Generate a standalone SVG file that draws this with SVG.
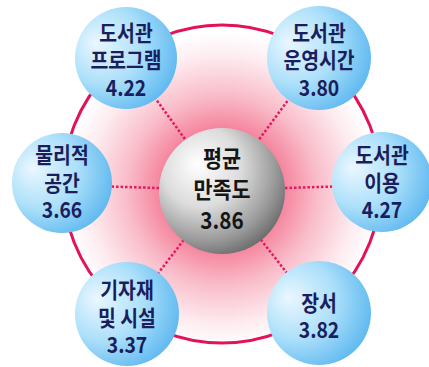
<svg xmlns="http://www.w3.org/2000/svg" width="429" height="367" viewBox="0 0 429 367">
<defs>
<radialGradient id="glow" cx="222" cy="190" r="158" gradientUnits="userSpaceOnUse">
<stop offset="0.35" stop-color="#f47a95"/>
<stop offset="0.6" stop-color="#f9bcc9"/>
<stop offset="0.85" stop-color="#fdecf0"/>
<stop offset="1" stop-color="#ffffff"/>
</radialGradient>
<radialGradient id="gray" cx="0.38" cy="0.35" r="0.7" fx="0.3" fy="0.28">
<stop offset="0" stop-color="#ffffff"/>
<stop offset="0.45" stop-color="#dcdcdc"/>
<stop offset="0.8" stop-color="#9a9a9a"/>
<stop offset="1" stop-color="#6a6a6a"/>
</radialGradient>
<radialGradient id="blue" cx="0.35" cy="0.4" r="0.75" fx="0.2" fy="0.35">
<stop offset="0" stop-color="#eaf7ff"/>
<stop offset="0.5" stop-color="#ade0fa"/>
<stop offset="1" stop-color="#52b2ee"/>
</radialGradient>
</defs>
<style>
.node circle{fill:url(#blue)}
.node text{font-family:"Noto Sans CJK KR","Noto Sans",sans-serif;font-weight:bold;font-size:22px;fill:#1b1e5c;text-anchor:middle}
.center text{font-family:"Noto Sans CJK KR","Noto Sans",sans-serif;font-weight:bold;font-size:23px;fill:#151515;text-anchor:middle}
.spoke{stroke:#e3185f;stroke-width:2.5;stroke-dasharray:2.5 2;fill:none}
.ring{stroke:#e3105a;stroke-width:3;fill:none}
</style>
<circle cx="222" cy="188" r="158" fill="url(#glow)"/>
<g id="connectors">
<circle class="ring" cx="222" cy="184" r="159"/>
<line class="spoke" x1="222" y1="190" x2="126" y2="58"/>
<line class="spoke" x1="222" y1="190" x2="319" y2="58"/>
<line class="spoke" x1="222" y1="190" x2="62" y2="185"/>
<line class="spoke" x1="222" y1="190" x2="382" y2="185"/>
<line class="spoke" x1="222" y1="190" x2="127" y2="314"/>
<line class="spoke" x1="222" y1="190" x2="319" y2="314"/>
</g>
<g id="center" class="center">
<circle cx="222" cy="191" r="63" fill="url(#gray)"/>
<g transform="translate(222,0) scale(0.9,1)">
<text x="0" y="167">평균</text>
<text x="0" y="198">만족도</text>
<text x="0" y="229">3.86</text>
</g>
</g>
<g id="n1" class="node">
<circle cx="126" cy="58" r="51"/>
<g transform="translate(126,0) scale(0.88,1)">
<text x="0" y="41">도서관</text>
<text x="0" y="68">프로그램</text>
<text x="0" y="96">4.22</text>
</g>
</g>
<g id="n2" class="node">
<circle cx="319" cy="58" r="52"/>
<g transform="translate(319,0) scale(0.88,1)">
<text x="0" y="41">도서관</text>
<text x="0" y="68">운영시간</text>
<text x="0" y="96">3.80</text>
</g>
</g>
<g id="n3" class="node">
<circle cx="62" cy="183" r="50"/>
<g transform="translate(62,0) scale(0.88,1)">
<text x="0" y="163">물리적</text>
<text x="0" y="191">공간</text>
<text x="0" y="218">3.66</text>
</g>
</g>
<g id="n4" class="node">
<circle cx="382" cy="182" r="50"/>
<g transform="translate(382,0) scale(0.88,1)">
<text x="0" y="163">도서관</text>
<text x="0" y="191">이용</text>
<text x="0" y="218">4.27</text>
</g>
</g>
<g id="n5" class="node">
<circle cx="127" cy="314" r="52"/>
<g transform="translate(127,0) scale(0.88,1)">
<text x="0" y="298">기자재</text>
<text x="0" y="326">및 시설</text>
<text x="0" y="353">3.37</text>
</g>
</g>
<g id="n6" class="node">
<circle cx="319" cy="313" r="52"/>
<g transform="translate(319,0) scale(0.88,1)">
<text x="0" y="311">장서</text>
<text x="0" y="338">3.82</text>
</g>
</g>
</svg>
